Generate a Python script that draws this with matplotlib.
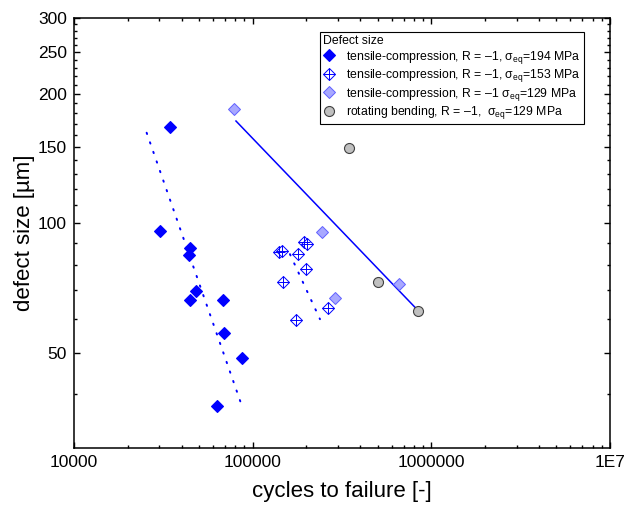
import matplotlib
matplotlib.use("Agg")
import matplotlib.pyplot as plt
from matplotlib.ticker import FixedLocator, FixedFormatter, NullFormatter

plt.rcParams['font.family'] = ['Liberation Sans', 'DejaVu Sans']
plt.rcParams['mathtext.fontset'] = 'custom'
plt.rcParams['mathtext.rm'] = 'Liberation Sans'
plt.rcParams['mathtext.it'] = 'Liberation Sans'

# tensile-compression, 194 MPa
n_194 = [34600, 30300, 44700, 43800, 48300, 44400, 68500, 68800, 86800, 63400]
d_194 = [167.6, 95.7, 87.5, 84.3, 69.6, 66.2, 66.2, 55.6, 48.5, 37.6]
fit_194_n = [25500, 87400]
fit_194_d = [162.3, 37.4]

# tensile-compression, 153 MPa
n_153 = [140300, 146400, 179900, 194500, 202100, 199500, 147200, 262800, 175400]
d_153 = [85.8, 86.1, 84.9, 90.3, 89.4, 78.2, 73.1, 63.5, 59.6]
fit_153_n = [161700, 238100]
fit_153_d = [84.7, 59.8]

# tensile-compression, 129 MPa
n_129 = [78300, 245200, 288800, 661300]
d_129 = [184, 95.5, 67.1, 72.1]

# rotating bending, 129 MPa
n_rb = [345800, 504600, 838000]
d_rb = [149.8, 73.1, 62.5]

fit_129_n = [80650, 838000]
fit_129_d = [172.8, 62.8]

x_ticks = [1e4, 1e5, 1e6, 1e7]
x_labels = ['10000', '100000', '1000000', '1E7']
y_ticks = [50, 100, 150, 200, 250, 300]

fig = plt.figure(figsize=(6.27, 5.13), dpi=100)
ax = fig.add_axes([74/627, 65/513, 536/627, 430/513])

blue = '#0000FF'
# fit lines
ax.plot(fit_194_n, fit_194_d, color=blue, lw=1.4, linestyle=(0, (0.7, 4.5)),
        dash_capstyle='round')
ax.plot(fit_153_n, fit_153_d, color=blue, lw=1.4, linestyle=(0, (0.7, 4.5)),
        dash_capstyle='round')
ax.plot(fit_129_n, fit_129_d, color=blue, lw=1.1)

h1, = ax.plot(n_194, d_194, 'D', ms=6.3, mfc=blue, mec=blue, mew=0.8, ls='none')
h2a, = ax.plot(n_153, d_153, 'D', ms=6.3, mfc='white', mec=blue, mew=0.7, ls='none')
h2b, = ax.plot(n_153, d_153, '+', ms=8.6, mec=blue, mew=0.7, ls='none')
h3, = ax.plot(n_129, d_129, 'D', ms=6.3, mfc='#A8A8FF', mec='#6060FF', mew=0.7, ls='none')
h4, = ax.plot(n_rb, d_rb, 'o', ms=7.2, mfc='#C0C0C0', mec='#404040', mew=0.8, ls='none')

ax.set_xscale('log')
ax.set_yscale('log')
ax.set_xlim(1e4, 1e7)
ax.set_ylim(30, 300)

ax.xaxis.set_major_locator(FixedLocator(x_ticks))
ax.xaxis.set_major_formatter(FixedFormatter(x_labels))
x_minor = [m * 10**e for e in range(4, 7) for m in range(2, 10)]
ax.xaxis.set_minor_locator(FixedLocator(x_minor))
ax.xaxis.set_minor_formatter(NullFormatter())

ax.yaxis.set_major_locator(FixedLocator(y_ticks))
ax.yaxis.set_major_formatter(FixedFormatter([str(v) for v in y_ticks]))
y_minor = [v for v in range(40, 300, 10) if v not in y_ticks]
ax.yaxis.set_minor_locator(FixedLocator(y_minor))
ax.yaxis.set_minor_formatter(NullFormatter())

ax.tick_params(which='both', direction='in', top=True, right=True, width=1.0,
               labelsize=12.5, pad=5)
ax.tick_params(which='major', length=4)
ax.tick_params(which='minor', length=2.2)
for s in ax.spines.values():
    s.set_linewidth(1.1)

ax.set_xlabel('cycles to failure [-]', fontsize=16, labelpad=8)
ax.set_ylabel('defect size [µm]', fontsize=16, labelpad=2)

labels = [
    'tensile-compression, R = –1, σ$_{\\mathrm{eq}}$=194 MPa',
    'tensile-compression, R = –1, σ$_{\\mathrm{eq}}$=153 MPa',
    'tensile-compression, R = –1 σ$_{\\mathrm{eq}}$=129 MPa',
    'rotating bending, R = –1,  σ$_{\\mathrm{eq}}$=129 MPa',
]
leg = ax.legend([h1, (h2a, h2b), h3, h4], labels, title='Defect size',
                loc='upper right', bbox_to_anchor=(0.951, 0.967),
                borderaxespad=0,
                fontsize=8.8, title_fontsize=8.8, frameon=True, fancybox=False,
                edgecolor='black', framealpha=1, handlelength=1.0,
                handletextpad=0.9, borderpad=0.25, labelspacing=0.12,
                alignment='left')
leg.get_frame().set_linewidth(0.8)

fig.savefig('out.png', dpi=100)
